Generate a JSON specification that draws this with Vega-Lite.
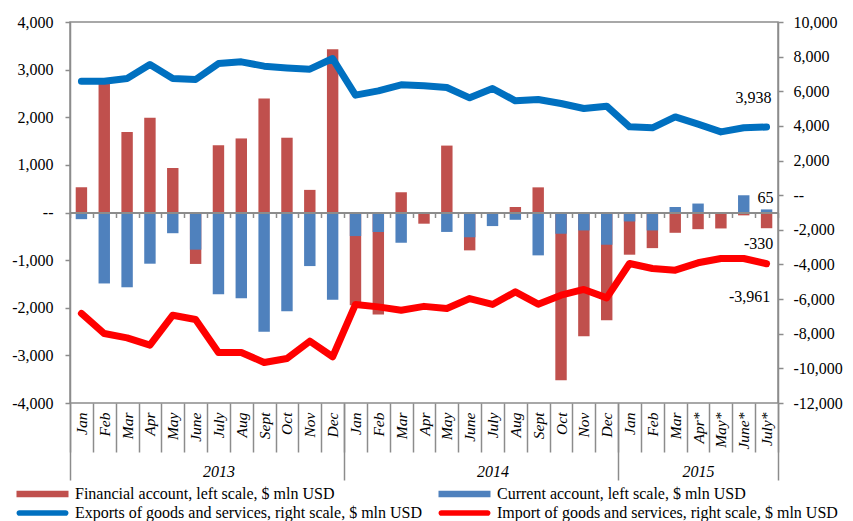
{
  "$schema": "https://vega.github.io/schema/vega-lite/v6.json",
  "width": 708,
  "height": 381,
  "autosize": {"type": "none"},
  "padding": {"left": 70, "top": 22, "right": 75, "bottom": 118},
  "background": "white",
  "config": {
    "locale": {"number": {"decimal": ".", "thousands": ",", "grouping": [3], "currency": ["$", ""], "minus": "-"}},
    "view": {"stroke": "#8c8c8c", "strokeWidth": 1.5},
    "font": "Liberation Serif",
    "axis": {"labelFont": "Liberation Serif", "labelColor": "black", "domainColor": "#8c8c8c", "tickColor": "#8c8c8c", "grid": false, "title": null, "labelOverlap": false},
    "legend": {"labelFont": "Liberation Serif"}
  },
  "data": {"values": [
    {"m": "2013-Jan", "fin": 530, "cur": -140, "exp": 6580, "imp": -6830},
    {"m": "2013-Feb", "fin": 2700, "cur": -1490, "exp": 6580, "imp": -7990},
    {"m": "2013-Mar", "fin": 1690, "cur": -1570, "exp": 6740, "imp": -8240},
    {"m": "2013-Apr", "fin": 1990, "cur": -1075, "exp": 7550, "imp": -8660},
    {"m": "2013-May", "fin": 935, "cur": -435, "exp": 6740, "imp": -6930},
    {"m": "2013-June", "fin": -1080, "cur": -780, "exp": 6680, "imp": -7180},
    {"m": "2013-July", "fin": 1410, "cur": -1715, "exp": 7600, "imp": -9080},
    {"m": "2013-Aug", "fin": 1555, "cur": -1800, "exp": 7700, "imp": -9080},
    {"m": "2013-Sept", "fin": 2395, "cur": -2505, "exp": 7450, "imp": -9660},
    {"m": "2013-Oct", "fin": 1570, "cur": -2075, "exp": 7350, "imp": -9430},
    {"m": "2013-Nov", "fin": 475, "cur": -1125, "exp": 7275, "imp": -8430},
    {"m": "2013-Dec", "fin": 3430, "cur": -1830, "exp": 7890, "imp": -9330},
    {"m": "2014-Jan", "fin": -1950, "cur": -495, "exp": 5775, "imp": -6310},
    {"m": "2014-Feb", "fin": -2140, "cur": -410, "exp": 6020, "imp": -6450},
    {"m": "2014-Mar", "fin": 425, "cur": -635, "exp": 6370, "imp": -6640},
    {"m": "2014-Apr", "fin": -235, "cur": 0, "exp": 6320, "imp": -6420},
    {"m": "2014-May", "fin": 1405, "cur": -408, "exp": 6220, "imp": -6545},
    {"m": "2014-June", "fin": -795, "cur": -520, "exp": 5620, "imp": -5970},
    {"m": "2014-July", "fin": 0, "cur": -285, "exp": 6160, "imp": -6310},
    {"m": "2014-Aug", "fin": 115, "cur": -153, "exp": 5450, "imp": -5580},
    {"m": "2014-Sept", "fin": 528, "cur": -900, "exp": 5525, "imp": -6295},
    {"m": "2014-Oct", "fin": -3520, "cur": -446, "exp": 5295, "imp": -5775},
    {"m": "2014-Nov", "fin": -2600, "cur": -377, "exp": 5005, "imp": -5445},
    {"m": "2014-Dec", "fin": -2262, "cur": -677, "exp": 5140, "imp": -5930},
    {"m": "2015-Jan", "fin": -886, "cur": -188, "exp": 3945, "imp": -3945},
    {"m": "2015-Feb", "fin": -748, "cur": -377, "exp": 3890, "imp": -4235},
    {"m": "2015-Mar", "fin": -426, "cur": 115, "exp": 4520, "imp": -4330},
    {"m": "2015-Apr*", "fin": -350, "cur": 188, "exp": 4100, "imp": -3905},
    {"m": "2015-May*", "fin": -335, "cur": 0, "exp": 3655, "imp": -3655},
    {"m": "2015-June*", "fin": -60, "cur": 362, "exp": 3890, "imp": -3655},
    {"m": "2015-July*", "fin": -330, "cur": 65, "exp": 3938, "imp": -3961}
  ]},
  "layer": [
    {
      "mark": {"type": "bar", "width": {"band": 0.5}},
      "encoding": {
        "x": {"field": "m", "type": "nominal", "sort": null, "scale": {"paddingInner": 0, "paddingOuter": 0},
          "axis": {"orient": "bottom", "tickBand": "extent", "tickSize": 49, "tickWidth": 1.5, "domain": false,
            "labelExpr": "split(datum.value, '-')[1]", "labelAngle": 270, "labelAlign": "right", "labelBaseline": "middle",
            "labelFont": "Liberation Serif", "labelFontStyle": "italic", "labelFontSize": 15.5, "labelPadding": -40}},
        "y": {"field": "fin", "type": "quantitative", "scale": {"domain": [-4000, 4000], "nice": false, "zero": false},
          "axis": {"orient": "left", "values": [-4000, -3000, -2000, -1000, 0, 1000, 2000, 3000, 4000],
            "labelExpr": "datum.value == 0 ? '--' : format(datum.value, ',')", "labelFont": "Liberation Serif", "labelFontSize": 16,
            "tickSize": 5, "tickWidth": 1.5, "labelPadding": 12, "domainWidth": 1.5}},
        "color": {"datum": "Financial account, left scale, $ mln USD",
          "scale": {"domain": ["Financial account, left scale, $ mln USD", "Exports of goods and services, right scale, $ mln USD", "Current account, left scale, $ mln USD", "Import of goods and services, right scale, $ mln USD"],
            "range": ["#C0504D", "#0070C0", "#4F81BD", "#FF0000"]},
          "legend": {"orient": "none", "legendX": -55, "legendY": 464, "columns": 2, "title": null,
            "labelFont": "Liberation Serif", "labelFontSize": 16, "labelColor": "black", "labelLimit": 600,
            "symbolSize": 169, "labelOffset": 44, "columnPadding": 14, "rowPadding": 3, "padding": 0,
            "symbolType": "M-1,-0.515H7V0.515H-1Z",
            "encode": {"symbols": {"update": {
              "shape": {"signal": "indexof(datum.value, 'right scale') >= 0 ? 'M-0.56,-0.44H6.56A0.44,0.44 0 0 1 6.56,0.44H-0.56A0.44,0.44 0 0 1 -0.56,-0.44Z' : 'M-1,-0.515H7V0.515H-1Z'"},
              "fill": {"scale": "color", "field": "value"},
              "stroke": {"value": "transparent"},
              "strokeWidth": {"value": 0}}}}}}
      }
    },
    {
      "mark": {"type": "bar", "width": {"band": 0.5}},
      "encoding": {
        "x": {"field": "m", "type": "nominal", "sort": null,
          "axis": {"orient": "bottom", "tickBand": "extent", "tickSize": 77, "tickOpacity": 0, "domain": false,
            "labelExpr": "datum.value == '2013-July' ? '2013' : datum.value == '2014-July' ? '2014' : datum.value == '2015-Apr*' ? '2015' : ''",
            "labelAngle": 0, "labelAlign": "center", "labelBaseline": "middle", "labelFont": "Liberation Serif", "labelFontStyle": "italic", "labelFontSize": 16, "labelPadding": -9,
            "encode": {"labels": {"update": {"dx": {"signal": "datum.value == '2015-Apr*' ? 0 : -11.42"}}}}}},
        "y": {"field": "cur", "type": "quantitative", "scale": {"domain": [-4000, 4000], "nice": false, "zero": false}, "axis": null},
        "color": {"datum": "Current account, left scale, $ mln USD"}
      }
    },
    {
      "mark": {"type": "line", "strokeWidth": 7, "strokeCap": "round", "strokeJoin": "round"},
      "encoding": {
        "x": {"field": "m", "type": "nominal", "sort": null,
          "axis": {"orient": "bottom", "offset": -190.5, "tickBand": "extent", "tickSize": 5, "tickWidth": 1.5, "labels": false, "domain": true, "domainWidth": 2, "zindex": 1}},
        "y": {"field": "exp", "type": "quantitative", "scale": {"domain": [-12000, 10000], "nice": false, "zero": false},
          "axis": {"orient": "right", "values": [-12000, -10000, -8000, -6000, -4000, -2000, 0, 2000, 4000, 6000, 8000, 10000],
            "labelExpr": "datum.value == 0 ? '--' : format(datum.value, ',')", "labelFont": "Liberation Serif", "labelFontSize": 16,
            "tickSize": 5, "tickWidth": 1.5, "labelPadding": 10, "domainWidth": 1.5}},
        "color": {"datum": "Exports of goods and services, right scale, $ mln USD"}
      }
    },
    {
      "mark": {"type": "line", "strokeWidth": 7, "strokeCap": "round", "strokeJoin": "round"},
      "encoding": {
        "x": {"field": "m", "type": "nominal", "sort": null,
          "axis": {"orient": "bottom", "values": ["2013-Jan", "2014-Jan", "2015-Jan"], "bandPosition": 0, "tickSize": 77, "tickWidth": 1.5, "labels": false, "domain": false}},
        "y": {"field": "imp", "type": "quantitative", "scale": {"domain": [-12000, 10000], "nice": false, "zero": false}, "axis": null},
        "color": {"datum": "Import of goods and services, right scale, $ mln USD"}
      }
    },
    {
      "transform": [{"filter": "datum.m == '2015-July*'"}],
      "mark": {"type": "text", "font": "Liberation Serif", "fontSize": 16, "color": "black", "dx": -1, "dy": -11},
      "encoding": {
        "x": {"field": "m", "type": "nominal", "sort": null,
          "axis": {"orient": "bottom", "values": ["2015-July*"], "bandPosition": 1, "tickSize": 77, "tickWidth": 1.5, "labels": false, "domain": false}},
        "y": {"field": "cur", "type": "quantitative", "scale": {"domain": [-4000, 4000], "nice": false, "zero": false}, "axis": null},
        "text": {"field": "cur", "type": "quantitative", "format": ","}
      }
    },
    {
      "transform": [{"filter": "datum.m == '2015-July*'"}],
      "mark": {"type": "text", "font": "Liberation Serif", "fontSize": 16, "color": "black", "dx": -8, "dy": 16},
      "encoding": {
        "x": {"field": "m", "type": "nominal", "sort": null, "axis": null},
        "y": {"field": "fin", "type": "quantitative", "scale": {"domain": [-4000, 4000], "nice": false, "zero": false}, "axis": null},
        "text": {"field": "fin", "type": "quantitative", "format": ","}
      }
    },
    {
      "transform": [{"filter": "datum.m == '2015-July*'"}],
      "mark": {"type": "text", "font": "Liberation Serif", "fontSize": 16, "color": "black", "dx": -13, "dy": -29},
      "encoding": {
        "x": {"field": "m", "type": "nominal", "sort": null, "axis": null},
        "y": {"field": "exp", "type": "quantitative", "scale": {"domain": [-12000, 10000], "nice": false, "zero": false}, "axis": null},
        "text": {"field": "exp", "type": "quantitative", "format": ","}
      }
    },
    {
      "transform": [{"filter": "datum.m == '2015-July*'"}],
      "mark": {"type": "text", "font": "Liberation Serif", "fontSize": 16, "color": "black", "dx": -17, "dy": 33},
      "encoding": {
        "x": {"field": "m", "type": "nominal", "sort": null, "axis": null},
        "y": {"field": "imp", "type": "quantitative", "scale": {"domain": [-12000, 10000], "nice": false, "zero": false}, "axis": null},
        "text": {"field": "imp", "type": "quantitative", "format": ","}
      }
    }
  ],
  "resolve": {"scale": {"y": "independent"}, "axis": {"x": "independent", "y": "independent"}}
}
